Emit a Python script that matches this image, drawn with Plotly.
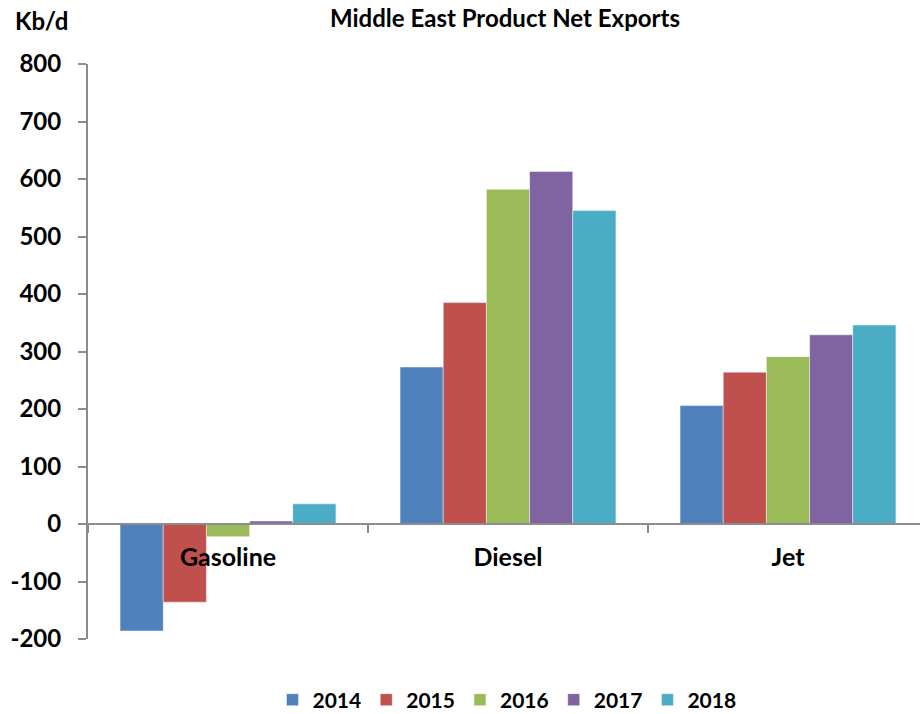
import plotly.graph_objects as go

categories = ["Gasoline", "Diesel", "Jet"]
years = ["2014", "2015", "2016", "2017", "2018"]
values = {
    "2014": [-186, 273, 206],
    "2015": [-136, 385, 264],
    "2016": [-22, 582, 291],
    "2017": [5, 613, 329],
    "2018": [35, 545, 346],
}
colors = ["#4F81BD", "#C0504D", "#9BBB59", "#8064A2", "#4BACC6"]
y_ticks = [-200, -100, 0, 100, 200, 300, 400, 500, 600, 700, 800]

FONT = "Lato, 'Open Sans', sans-serif"
AXIS_GRAY = "#8C8C8C"

W, H = 920, 714
ML, MR, MT, MB = 88, 0, 64, 75
PW, PH = W - ML - MR, H - MT - MB


def px_to_paper(x, y):
    return (x - ML) / PW, (H - MB - y) / PH


fig = go.Figure()
for yr, col in zip(years, colors):
    fig.add_trace(go.Bar(
        name=yr, x=categories, y=values[yr],
        marker=dict(color=col, line=dict(color="rgba(255,255,255,0.45)", width=1)),
    ))

y_min, y_max = y_ticks[0], y_ticks[-1]
zero_pos = (0 - y_min) / (y_max - y_min)

kx, ky = px_to_paper(13, 20)

fig.update_layout(
    width=W, height=H,
    margin=dict(l=ML, r=MR, t=MT, b=MB),
    paper_bgcolor="white", plot_bgcolor="white",
    barmode="group", bargap=0.229, bargroupgap=0,
    font=dict(family=FONT, color="black"),
    showlegend=True,
    title=dict(
        text="Middle East Product Net Exports",
        x=505 / W, xanchor="center", xref="container",
        y=1 - 19 / H, yanchor="middle", yref="container",
        font=dict(size=24, family=FONT, color="black", weight="bold"),
    ),
    legend=dict(
        orientation="h",
        x=507 / W, xanchor="center", xref="container",
        y=1 - 700 / H, yanchor="middle", yref="container",
        font=dict(size=21, family=FONT, color="black", weight="bold"),
        itemwidth=30, traceorder="normal",
    ),
    xaxis=dict(
        type="category", range=[-0.5, -0.5 + PW / 280],
        anchor="free", position=zero_pos, automargin=False,
        showline=True, linecolor=AXIS_GRAY, linewidth=2,
        tickson="boundaries", ticks="outside", ticklen=8, tickcolor=AXIS_GRAY, tickwidth=2,
        tickfont=dict(size=25, family=FONT, color="black", weight="bold"),
        ticklabelstandoff=11,
        showgrid=False, zeroline=False,
    ),
    yaxis=dict(
        range=[y_min, y_max], tickvals=y_ticks, ticktext=[str(v) for v in y_ticks],
        automargin=False,
        showline=True, linecolor=AXIS_GRAY, linewidth=2,
        ticks="outside", ticklen=8, tickcolor=AXIS_GRAY, tickwidth=2,
        tickfont=dict(size=24, family=FONT, color="black", weight="bold"),
        ticklabelstandoff=12,
        showgrid=False, zeroline=False,
    ),
    annotations=[
        dict(text="Kb/d", x=kx, y=ky, xref="paper", yref="paper",
             xanchor="left", yanchor="middle",
             showarrow=False, font=dict(size=24, family=FONT, color="black", weight="bold")),
    ],
)

fig.write_html(
    "out.html",
    config={"displayModeBar": False},
    post_script="document.body.style.margin='0px';document.body.style.overflow='hidden';",
)
